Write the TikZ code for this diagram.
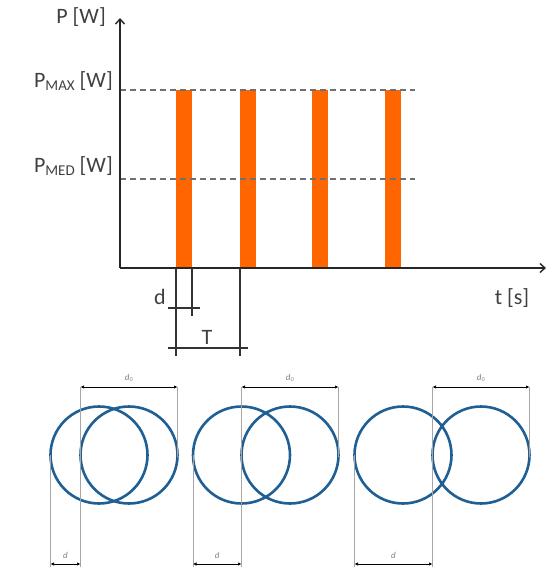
\documentclass[tikz,border=0pt]{standalone}
\usepackage{fontspec}
\setmainfont{Carlito}
\usetikzlibrary{arrows.meta}
\definecolor{barorange}{HTML}{FF6600}
\definecolor{circblue}{HTML}{1F5F94}
\definecolor{txtgray}{HTML}{404040}
\definecolor{dashgray}{HTML}{707070}
\begin{document}
\begin{tikzpicture}[x=1pt,y=-1pt,
  axis/.style={line width=1.5pt,black!85,-{Straight Barb[length=5pt,width=9pt,line width=1.4pt]}},
  lvl/.style={line width=1.6pt,dashgray,dash pattern=on 6pt off 4pt},
  bar/.style={fill=barorange,draw=none},
  dimline/.style={line width=1.3pt,black!80},
  lbl/.style={text=txtgray,font=\fontsize{22}{22}\selectfont,inner sep=0pt},
  circ/.style={draw=circblue,line width=2.6pt},
  ext/.style={draw=black!35,line width=1pt},
  dimarr/.style={line width=1pt,black,{Latex[length=3.5pt,width=3.5pt]}-{Latex[length=3.5pt,width=3.5pt]}},
  small/.style={text=black!50,font=\fontsize{9}{9}\selectfont\itshape,inner sep=0pt}
]
\useasboundingbox (0,0) rectangle (550,567);
% axes
\coordinate (O) at (120,268);
\coordinate (Ytop) at (120,18);
\coordinate (Xend) at (546,268);
% bars
\foreach \i/\x in {1/176,2/240,3/312,4/385}{
  \path[bar] (\x,90) rectangle (\x+16,268);
  \coordinate (b\i) at (\x,268);
}
% level lines
\coordinate (pmaxL) at (120,90);
\coordinate (pmaxR) at (415,90);
\coordinate (pmedL) at (120,179);
\coordinate (pmedR) at (415,179);
\draw[lvl] (pmaxL) -- (pmaxR);
\draw[lvl] (pmedL) -- (pmedR);
\draw[axis] (O) -- (Ytop);
\draw[axis] (O) -- (Xend);
% labels
\node[lbl,anchor=base east] (pw) at (106,24) {P [W]};
\node[lbl,anchor=base east] (pmax) at (113,88) {P{\raisebox{-3pt}{\fontsize{15}{15}\selectfont MAX}} [W]};
\node[lbl,anchor=base east] (pmed) at (113,172) {P{\raisebox{-3pt}{\fontsize{15}{15}\selectfont MED}} [W]};
\node[lbl,anchor=base] (ts) at (512,304) {t [s]};
% dimension lines upper
\coordinate (d1t) at (176,268);
\coordinate (d1b) at (176,356);
\coordinate (d2t) at (192,268);
\coordinate (d2b) at (192,316);
\coordinate (t2t) at (240,268);
\coordinate (t2b) at (240,356);
\draw[dimline] (d1t) -- (d1b);
\draw[dimline] (d2t) -- (d2b);
\draw[dimline] (t2t) -- (t2b);
\coordinate (dl) at (168,308);
\coordinate (dr) at (200,308);
\coordinate (tl) at (168,348);
\coordinate (tr) at (248,348);
\draw[dimline] (dl) -- (dr);
\draw[dimline] (tl) -- (tr);
\node[lbl,anchor=base] (dlab) at (160,304) {d};
\node[lbl,anchor=base] (tlab) at (207,344) {T};
% circles
\foreach \n/\a/\b in {1/99/129,2/241.5/290,3/403/481}{
  \node[circ,circle,minimum size=97pt,inner sep=0pt] (cl\n) at (\a,455) {};
  \node[circ,circle,minimum size=97pt,inner sep=0pt] (cr\n) at (\b,455) {};
  \coordinate (e1\n) at (\a-48.5,455);
  \coordinate (e1b\n) at (\a-48.5,567);
  \coordinate (e2\n) at (\b-48.5,387);
  \coordinate (e2b\n) at (\b-48.5,567);
  \coordinate (e3\n) at (\b+48.5,387);
  \coordinate (e3b\n) at (\b+48.5,457);
  \draw[ext] (e1\n) -- (e1b\n);
  \draw[ext] (e2\n) -- (e2b\n);
  \draw[ext] (e3\n) -- (e3b\n);
  \coordinate (dd1\n) at (\a-48.5,564);
  \coordinate (dd2\n) at (\b-48.5,564);
  \draw[dimarr] (e2\n) -- (e3\n);
  \draw[dimarr] (dd1\n) -- (dd2\n);
  \node[small,anchor=base] (d0lab\n) at (\b,380) {d\textsubscript{0}};
  \node[small,anchor=base] (dlab\n) at ({(\a+\b)/2-48.5},558) {d};
}
\end{tikzpicture}
\end{document}
